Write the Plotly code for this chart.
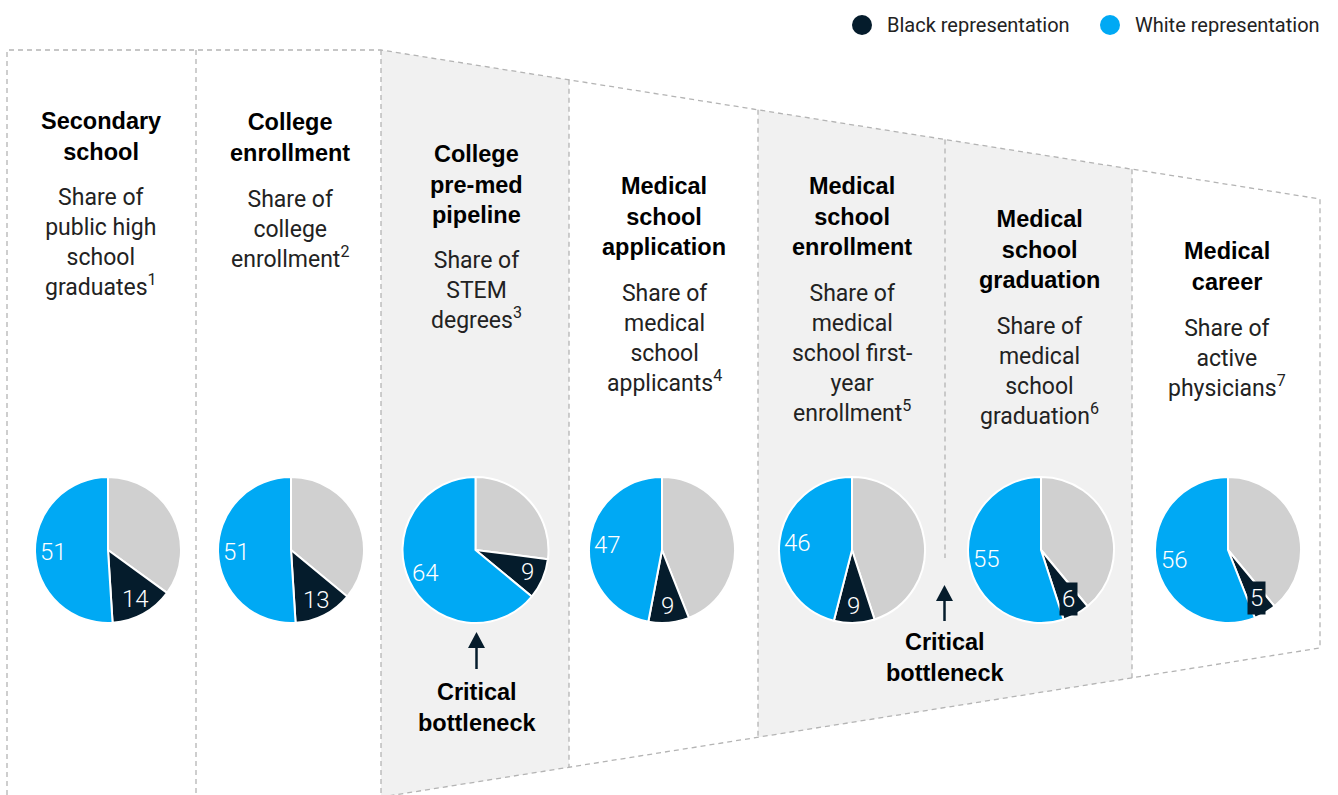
import math
import plotly.graph_objects as go

W, H = 1338, 795

# ---- data -------------------------------------------------------------
stages = [
    "Secondary<br>school",
    "College<br>enrollment",
    "College<br>pre-med<br>pipeline",
    "Medical<br>school<br>application",
    "Medical<br>school<br>enrollment",
    "Medical<br>school<br>graduation",
    "Medical<br>career",
]
measures = [
    "Share of<br>public high<br>school<br>graduates<sup>1</sup>",
    "Share of<br>college<br>enrollment<sup>2</sup>",
    "Share of<br>STEM<br>degrees<sup>3</sup>",
    "Share of<br>medical<br>school<br>applicants<sup>4</sup>",
    "Share of<br>medical<br>school first-<br>year<br>enrollment<sup>5</sup>",
    "Share of<br>medical<br>school<br>graduation<sup>6</sup>",
    "Share of<br>active<br>physicians<sup>7</sup>",
]
white_share = [51, 51, 64, 47, 46, 55, 56]
black_share = [14, 13, 9, 9, 9, 6, 5]
other_share = [35, 36, 27, 44, 45, 39, 39]

# ---- styling / layout constants ----------------------------------------
BLUE = "#00a9f4"
NAVY = "#051c2c"
GRAY = "#d0d0d0"
SHADE = "#f1f1f1"
DASH_COLOR = "#b4b4b4"
BODY_FONT = "Roboto"
HEAD_FONT = "Liberation Sans"

col_x = [101, 290, 476, 664, 852, 1039, 1227]
head_y = [122, 123, 155, 187, 187, 220, 252]
sub_y = [198, 200, 261, 294, 294, 327, 329]
pie_cx = [108, 291, 475.5, 662, 852, 1041, 1228]
pie_cy = 550
pie_r = 73
boxed_black = [False, False, False, False, False, True, True]


def px(x):
    return x / W


def py(y):
    return 1 - y / H


def path(points, close=False):
    s = "M " + " L ".join(f"{px(x):.5f},{py(y):.5f}" for x, y in points)
    return s + (" Z" if close else "")


fig = go.Figure()

# Going clockwise from 12 o'clock: remainder, Black, White -> White sits on the
# left of 12 o'clock with Black just below it.
for i in range(len(stages)):
    cx = pie_cx[i]
    fig.add_trace(go.Pie(
        values=[other_share[i], black_share[i], white_share[i]],
        labels=["Other", "Black representation", "White representation"],
        sort=False,
        direction="clockwise",
        rotation=0,
        textinfo="none",
        hoverinfo="label+value",
        showlegend=False,
        marker=dict(colors=[GRAY, NAVY, BLUE], line=dict(color="white", width=2)),
        domain=dict(x=[px(cx - pie_r), px(cx + pie_r)],
                    y=[py(pie_cy + pie_r), py(pie_cy - pie_r)]),
    ))

shapes = []
# shaded stages
shapes.append(dict(type="path", xref="paper", yref="paper", layer="below",
                   path=path([(381, 50), (569, 79.8), (569, 767.3), (381, 797.1)], True),
                   fillcolor=SHADE, line=dict(width=0)))
shapes.append(dict(type="path", xref="paper", yref="paper", layer="below",
                   path=path([(758, 109.8), (1132, 169.2), (1132, 677.9), (758, 737.3)], True),
                   fillcolor=SHADE, line=dict(width=0)))

dash_line = dict(color=DASH_COLOR, width=1.3, dash="5px,4px")
# funnel outline
shapes.append(dict(type="path", xref="paper", yref="paper", layer="below",
                   path=path([(7, 795), (7, 50), (381, 50), (1320, 199),
                              (1320, 648), (381, 797.1)]),
                   line=dash_line))
# stage dividers
for x, y0, y1 in [(196, 50, 795), (381, 50, 795), (569, 79.8, 767.3),
                  (758, 109.8, 737.3), (945, 139.5, 558), (1132, 169.2, 677.9)]:
    shapes.append(dict(type="line", xref="paper", yref="paper", layer="below",
                       x0=px(x), x1=px(x), y0=py(y0), y1=py(y1), line=dash_line))

# bottleneck arrows
for ax, tip, base in [(476.5, 632, 669), (944.5, 585, 621)]:
    shapes.append(dict(type="line", xref="paper", yref="paper",
                       x0=px(ax), x1=px(ax), y0=py(tip + 10), y1=py(base),
                       line=dict(color=NAVY, width=2.5)))
    shapes.append(dict(type="path", xref="paper", yref="paper",
                       path=path([(ax - 8.5, tip + 16), (ax + 8.5, tip + 16), (ax, tip)], True),
                       fillcolor=NAVY, line=dict(width=0)))

# legend dots
shapes.append(dict(type="circle", xref="paper", yref="paper",
                   x0=px(852), x1=px(872), y0=py(35), y1=py(15),
                   fillcolor=NAVY, line=dict(width=0)))
shapes.append(dict(type="circle", xref="paper", yref="paper",
                   x0=px(1100), x1=px(1120), y0=py(35), y1=py(15),
                   fillcolor=BLUE, line=dict(width=0)))

annotations = []


def add_text(x, y, text, size, color="black", weight=400, family=BODY_FONT,
             xanchor="center", yanchor="top", bg=None):
    a = dict(x=px(x), y=py(y), xref="paper", yref="paper", text=text,
             showarrow=False, xanchor=xanchor, yanchor=yanchor, align="center",
             font=dict(family=family, size=size, color=color, weight=weight))
    if bg:
        a.update(bgcolor=bg, borderpad=2)
    annotations.append(a)


for i in range(len(stages)):
    add_text(col_x[i], head_y[i] - 16, f"<b>{stages[i]}</b>", 23.5,
             weight=700, family=HEAD_FONT)
    add_text(col_x[i], sub_y[i] - 16, measures[i], 23, color="#222222")

    # value labels placed at the mid-angle of each slice
    w, b = white_share[i], black_share[i]
    total = white_share[i] + black_share[i] + other_share[i]
    a_w = math.radians(90 + 360 * (w / 2) / total)
    a_b = math.radians(90 + 360 * (w + b / 2) / total)
    rw, rb = 0.75 * pie_r, 0.77 * pie_r
    add_text(pie_cx[i] + rw * math.cos(a_w), pie_cy - rw * math.sin(a_w), str(w),
             24, color="white", weight=300, yanchor="middle")
    add_text(pie_cx[i] + rb * math.cos(a_b), pie_cy - rb * math.sin(a_b), str(b),
             24, color="white", weight=300, yanchor="middle",
             bg=NAVY if boxed_black[i] else None)

# bottleneck captions
add_text(476.5, 693 - 16, "<b>Critical<br>bottleneck</b>", 23.5, weight=700, family=HEAD_FONT)
add_text(944.5, 643 - 16, "<b>Critical<br>bottleneck</b>", 23.5, weight=700, family=HEAD_FONT)

# legend labels
add_text(885, 25, "Black representation", 20, color="#222222", xanchor="left", yanchor="middle")
add_text(1133, 25, "White representation", 20, color="#222222", xanchor="left", yanchor="middle")

fig.update_layout(
    width=W, height=H,
    margin=dict(l=0, r=0, t=0, b=0),
    paper_bgcolor="white", plot_bgcolor="white",
    shapes=shapes, annotations=annotations,
    font=dict(family=BODY_FONT),
)

fig.write_html("out.html")
